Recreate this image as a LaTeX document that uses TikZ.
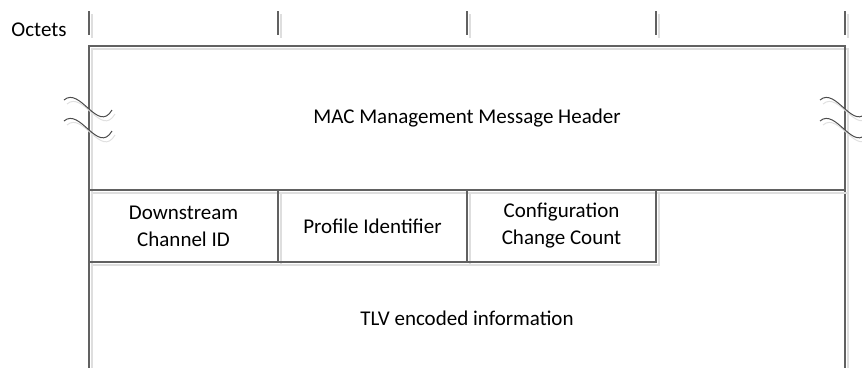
\documentclass[tikz,border=0pt]{standalone}
\usepackage{fontspec}
\setmainfont{Carlito}
\usetikzlibrary{positioning}

\begin{document}
\begin{tikzpicture}[
  x=1pt, y=-1pt,
  every node/.style={font=\fontsize{21}{27}\selectfont},
  shadowed/.style={preaction={draw=black!13, line width=1.3pt, transform canvas={shift={(3pt,-3pt)}}}},
  rule/.style={draw=black!62, line width=1.3pt, shadowed},
  wave/.style={draw=black!70, line width=1pt, preaction={draw=black!12, line width=1pt, transform canvas={shift={(3pt,-4pt)}}}},
  field/.style={rule, minimum width=189pt, minimum height=72pt, outer sep=0pt, inner sep=0pt, align=center},
]
\clip (0,0) rectangle (862,367);
\useasboundingbox (0,0) rectangle (862,367);

% octet ruler
\node (octets) at (39,30) {Octets};
\foreach \x in {89,278,467,656,845}
  \draw[rule] (\x,11) -- (\x,35);

% header and TLV frame
\draw[rule] (89,370) -- (89,46) -- (845,46) -- (845,370);
\draw[rule] (89,190) -- (845,190);
\node (hdr) at (467,118) {MAC Management Message Header};
\node (tlv) at (467,318) {TLV encoded information};

% fixed fields
\node[field, anchor=north west] (dcid) at (89,190) {Downstream\\Channel ID};
\node[field, right=0pt of dcid] (pid) {Profile Identifier};
\node[field, right=0pt of pid] (ccc) {Configuration\\Change Count};

% break marks
\foreach \cx in {89,845}
  \foreach \cy in {108,129}
    \draw[wave] (\cx-25,\cy-8) .. controls (\cx-9,\cy-22) and (\cx+9,\cy+26) .. (\cx+23,\cy+2);
\end{tikzpicture}
\end{document}
